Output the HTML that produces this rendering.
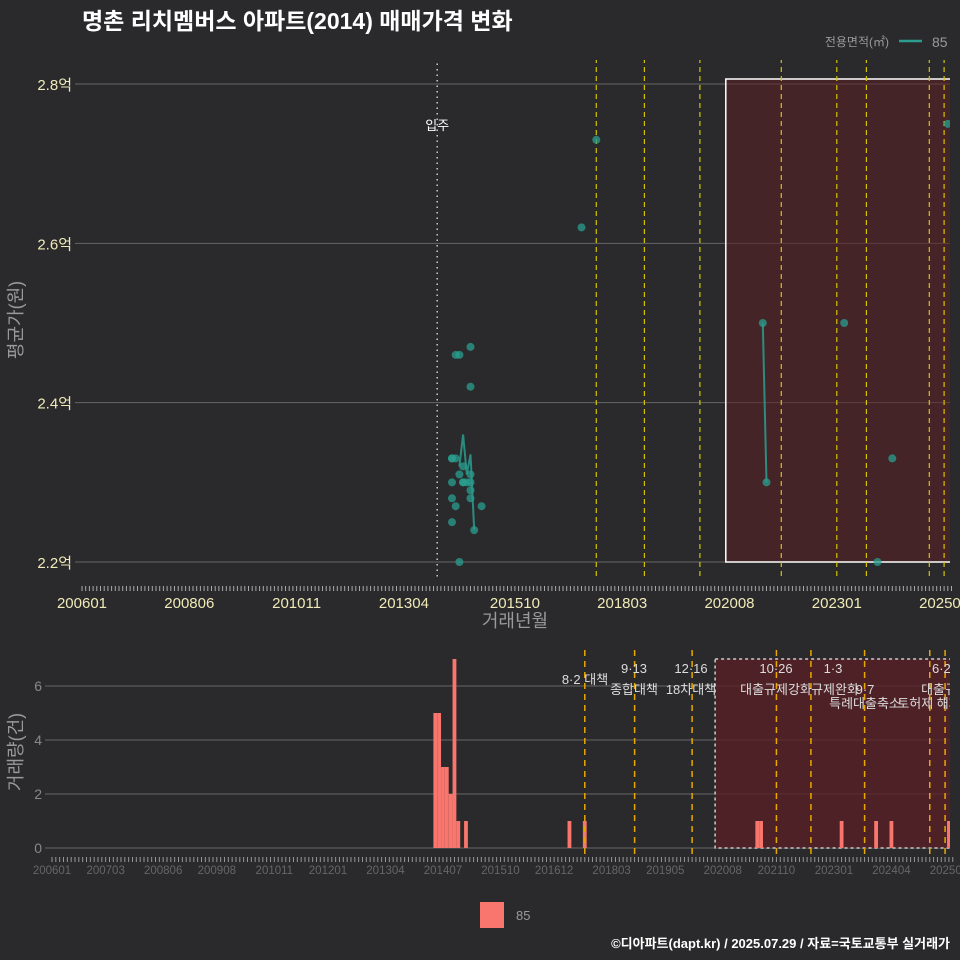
<!DOCTYPE html>
<html><head><meta charset="utf-8">
<style>
html,body{margin:0;padding:0;background:#2a2a2c;}
svg{display:block;font-family:"Liberation Sans","Noto Sans CJK KR",sans-serif;}
</style></head>
<body>
<svg id="c" width="960" height="960" viewBox="0 0 960 960">
<rect width="960" height="960" fill="#2a2a2c"/>
<text x="82" y="29" fill="#ffffff" font-size="23" font-weight="bold">명촌 리치멤버스 아파트(2014) 매매가격 변화</text>
<text x="889" y="46" fill="#9a9a9a" font-size="12" text-anchor="end">전용면적(㎡)</text>
<line x1="899" y1="41" x2="922" y2="41" stroke="#2a9d8f" stroke-width="2.5"/>
<text x="932" y="47" fill="#9a9a9a" font-size="14">85</text>
<g id="top"></g>
<g id="bot"></g>
<rect x="480" y="902" width="24" height="26" fill="#f8766d"/>
<text x="516" y="920" fill="#9a9a9a" font-size="13">85</text>
<text x="950" y="948" fill="#ffffff" font-size="13" font-weight="bold" text-anchor="end">©디아파트(dapt.kr) / 2025.07.29 / 자료=국토교통부 실거래가</text>
</svg>
<script>
// ---- data ----
const startYear = 2006;
const topTickLabels = ["200601","200806","201011","201304","201510","201803","202008","202301","202506"];
const topYTicks = [2.2,2.4,2.6,2.8];
const dealMonths = [100,100,101,102,103,103,104,105,105,101,102,105,100,103,105,105,105,100,101,108,100,106,102,135,139,184,185,206,215,219,234];
const dealPrices = [2.33,2.33,2.33,2.31,2.32,2.30,2.30,2.47,2.42,2.46,2.46,2.31,2.28,2.30,2.29,2.28,2.30,2.25,2.27,2.27,2.30,2.24,2.20,2.62,2.73,2.50,2.30,2.50,2.20,2.33,2.75];
const avgMonths = [102,103,104,105,106];
const avgPrices = [2.32,2.36,2.31,2.335,2.24];
const avgMonths2 = [184,185];
const avgPrices2 = [2.50,2.30];
const policyMonthsTop = [139,152,167,189,204,212,229,233];
const moveInMonth = 96;
const botTickLabels = ["200601","200703","200806","200908","201011","201201","201304","201407","201510","201612","201803","201905","202008","202110","202301","202404","202507"];
const botYTicks = [0,2,4,6];
const volMonths = [100,101,102,103,104,105,106,108,135,139,184,185,206,215,219,234];
const volCounts = [5,5,3,3,2,7,1,1,1,1,1,1,1,1,1,1];
const policyMonthsBot = [139,152,167,189,198,212,229,233];
const policyLabels = [["8·2 대책",""],["9·13","종합대책"],["12·16","18차대책"],["10·26","대출규제강화"],["1·3","규제완화"],["9·7","특례대출축소"],["","토허제 해제"],["6·27","대출규제"]];

const NS="http://www.w3.org/2000/svg";
function mk(parent,tag,attrs,name,txt){const e=document.createElementNS(NS,tag);for(const k in attrs)e.setAttribute(k,attrs[k]);


if(txt!==undefined)e.textContent=txt;parent.appendChild(e);return e;}
function lblMonth(s){return (parseInt(s.slice(0,4))-startYear)*12+parseInt(s.slice(4))-1;}

// ---- top chart ----
const T=document.getElementById('top');
const tx=m=>82+m*3.70, ty=v=>562-(v-2.2)/0.6*478;
const clipT=mk(T,'clipPath',{id:'ct'},'top-clip');mk(clipT,'rect',{x:75,y:60,width:875,height:520},'top-clip-rect');
topYTicks.forEach(v=>{mk(T,'line',{x1:75,x2:950,y1:ty(v),y2:ty(v),stroke:'#666',"stroke-width":1},'top-gridline');
mk(T,'text',{x:72,y:ty(v)+6,fill:'#f0eab8',"font-size":15,"text-anchor":"end"},'top-y-tick-label',v.toFixed(1)+'억');});
const gt=mk(T,'g',{"clip-path":"url(#ct)"},'top-plot-area');
mk(gt,'rect',{x:tx(174),y:ty(2.8)-5,width:tx(235.5)-tx(174),height:ty(2.2)-ty(2.8)+5,fill:'#5a1f24',"fill-opacity":0.55,stroke:'#fff',"stroke-width":1.5},'highlight-period-box');
mk(gt,'line',{x1:tx(moveInMonth),x2:tx(moveInMonth),y1:58,y2:580,stroke:'#ccc',"stroke-width":1.5,"stroke-dasharray":"1.5,4"},'move-in-line');
mk(gt,'text',{x:tx(moveInMonth),y:130,fill:'#fff',"font-size":13,"text-anchor":"middle"},'move-in-label','입주');
policyMonthsTop.forEach(m=>mk(gt,'line',{x1:tx(m),x2:tx(m),y1:58,y2:580,stroke:'#d4c400',"stroke-width":1.2,"stroke-dasharray":"5,4"},'policy-line-top'));
function poly(ms,vs,name){mk(gt,'polyline',{points:ms.map((m,i)=>tx(m)+','+ty(vs[i])).join(' '),fill:'none',stroke:'#2a9d8f',"stroke-width":2,"stroke-opacity":0.85},name);}
poly(avgMonths,avgPrices,'avg-price-line');poly(avgMonths2,avgPrices2,'avg-price-line-2');
dealMonths.forEach((m,i)=>mk(gt,'circle',{cx:tx(m),cy:ty(dealPrices[i]),r:4,fill:'#2a9d8f',"fill-opacity":0.75},'deal-point'));
for(let m=0;m<=235;m++)mk(T,'line',{x1:tx(m),x2:tx(m),y1:586,y2:591,stroke:'#aaa',"stroke-width":1},'top-x-minor-tick');
topTickLabels.forEach(s=>mk(T,'text',{x:tx(lblMonth(s)),y:608,fill:'#f0eab8',"font-size":15,"text-anchor":"middle"},'top-x-tick-label',s));
mk(T,'text',{x:515,y:627,fill:'#999',"font-size":18,"text-anchor":"middle"},'top-x-axis-title','거래년월');
mk(T,'text',{x:22,y:320,fill:'#999',"font-size":18,"text-anchor":"middle",transform:"rotate(-90 22 320)"},'top-y-axis-title','평균가(원)');

// ---- bottom chart ----
const B=document.getElementById('bot');
const bx=m=>52+m*3.833, by=v=>848-v*27;
const clipB=mk(B,'clipPath',{id:'cb'},'bottom-clip');mk(clipB,'rect',{x:45,y:640,width:905,height:215},'bottom-clip-rect');
botYTicks.forEach(v=>{mk(B,'line',{x1:45,x2:950,y1:by(v),y2:by(v),stroke:'#666',"stroke-width":1},'bottom-gridline');
mk(B,'text',{x:42,y:by(v)+5,fill:'#888',"font-size":14,"text-anchor":"end"},'bottom-y-tick-label',String(v));});
const gb=mk(B,'g',{"clip-path":"url(#cb)"},'bottom-plot-area');
mk(gb,'rect',{x:bx(173),y:659,width:bx(234.5)-bx(173),height:848-659,fill:'#5a1f24',"fill-opacity":0.75,stroke:'#ccc',"stroke-width":1.5,"stroke-dasharray":"3,3"},'bottom-highlight-box');
volMonths.forEach((m,i)=>mk(gb,'rect',{x:bx(m)-1.9,y:by(volCounts[i]),width:3.8,height:volCounts[i]*27,fill:'#f8766d'},'volume-bar'));
policyMonthsBot.forEach((m,i)=>{mk(gb,'line',{x1:bx(m),x2:bx(m),y1:650,y2:855,stroke:'#e8a800',"stroke-width":1.5,"stroke-dasharray":"6,5"},'policy-line-bottom');});
const lp=[[585,679,0,0],[634,668,634,689],[691,668,691,689],[776,668,776,689],[833,668,835,689],[865,689,865,703],[0,0,929,703],[945,668,945,689]];
policyLabels.forEach((p,i)=>{const q=lp[i];
 if(p[0])mk(gb,'text',{x:q[0],y:q[1]+5,fill:'#ddd',"font-size":13,"text-anchor":"middle"},'policy-date-label',p[0]);
 if(p[1])mk(gb,'text',{x:q[2],y:q[3]+5,fill:'#ddd',"font-size":13,"text-anchor":"middle"},'policy-name-label',p[1]);});
for(let m=0;m<=235;m++)mk(B,'line',{x1:bx(m),x2:bx(m),y1:857,y2:862,stroke:'#999',"stroke-width":1},'bottom-x-minor-tick');
botTickLabels.forEach(s=>mk(B,'text',{x:bx(lblMonth(s)),y:874,fill:'#666',"font-size":11.5,"text-anchor":"middle"},'bottom-x-tick-label',s));
mk(B,'text',{x:22,y:752,fill:'#999',"font-size":18,"text-anchor":"middle",transform:"rotate(-90 22 752)"},'bottom-y-axis-title','거래량(건)');
</script>
</body></html>
